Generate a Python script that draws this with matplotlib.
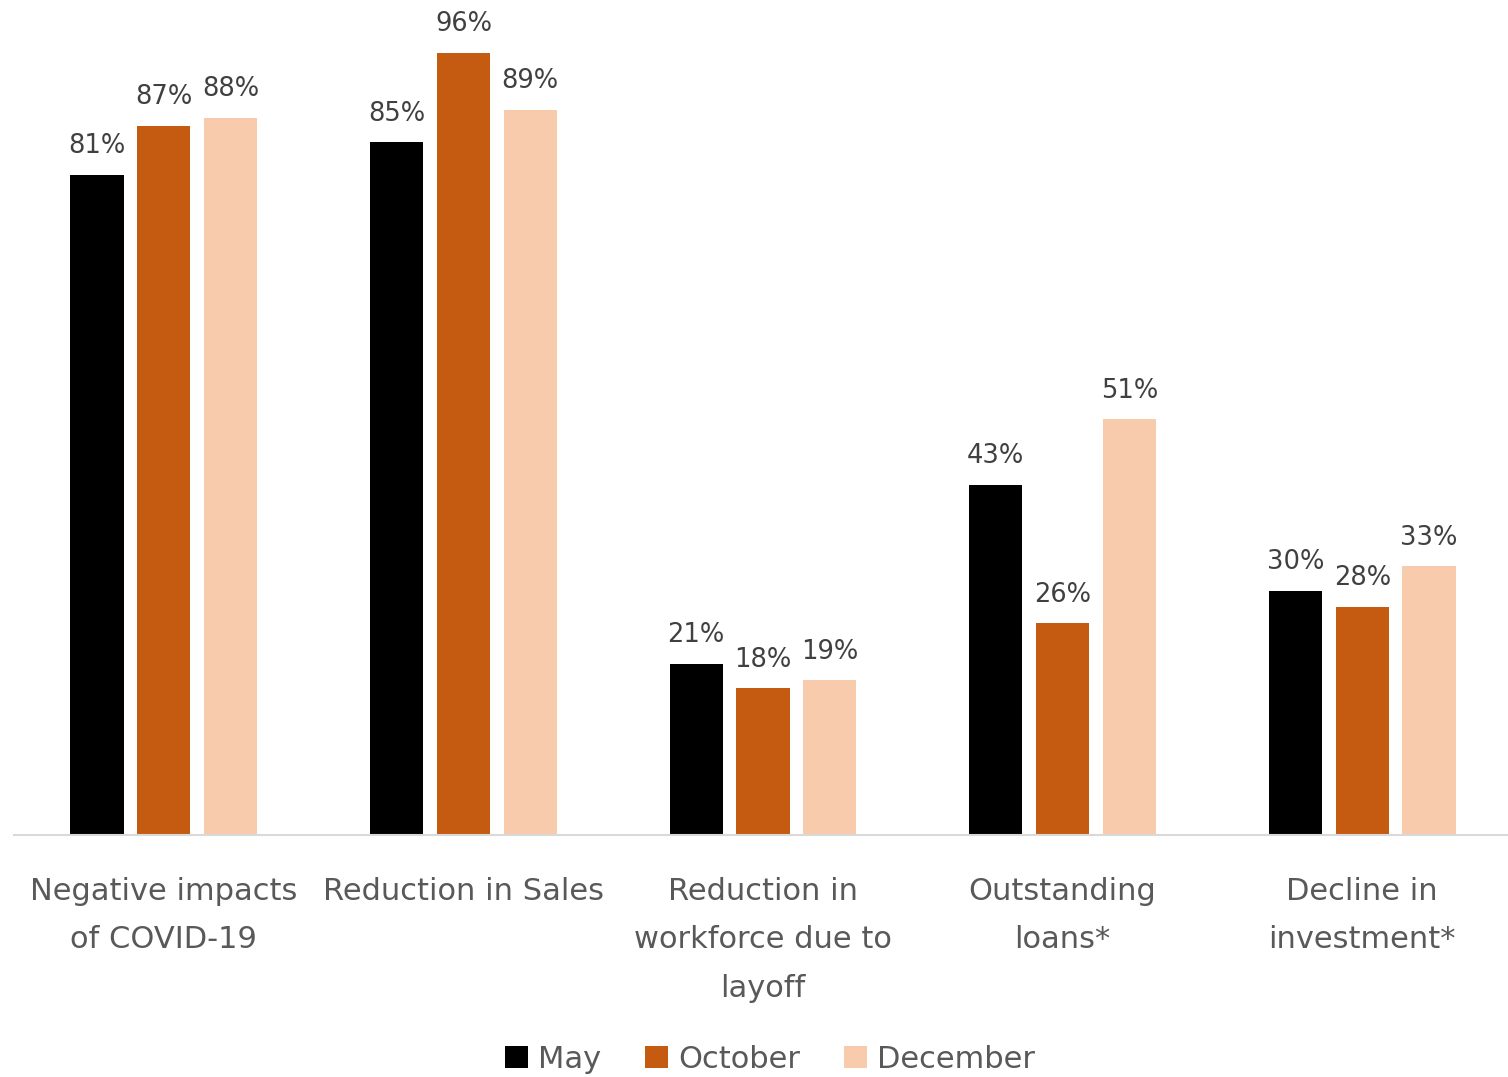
import matplotlib.pyplot as plt
from matplotlib.patches import Patch
import numpy as np

categories = ["Negative impacts\nof COVID-19", "Reduction in Sales",
              "Reduction in\nworkforce due to\nlayoff", "Outstanding\nloans*",
              "Decline in\ninvestment*"]
may = [81, 85, 21, 43, 30]
october = [87, 96, 18, 26, 28]
december = [88, 89, 19, 51, 33]

series = [("May", may, "#000000"),
          ("October", october, "#C55A11"),
          ("December", december, "#F8CBAD")]

plt.rcParams['font.family'] = ['DejaVu Sans']

fig = plt.figure(figsize=(15.08, 10.77), dpi=100)
ax = fig.add_axes([14 / 1508, 242 / 1077, 1498 / 1508, 815 / 1077])

x = np.arange(len(categories))
width = 0.177
pitch = 0.223
for i, (name, vals, col) in enumerate(series):
    pos = x + (i - 1) * pitch
    ax.bar(pos, vals, width, color=col, zorder=2)
    for p, v in zip(pos, vals):
        ax.text(p, v + 1.9, f"{v}%", ha="center", va="bottom",
                fontsize=18.5, color="#404040")

ax.set_xlim(-0.5, 4.5)
ax.set_ylim(0, 100)
for s in ["top", "right", "left"]:
    ax.spines[s].set_visible(False)
ax.spines["bottom"].set_color("#D9D9D9")
ax.spines["bottom"].set_linewidth(1.5)
ax.set_yticks([])
ax.set_xticks(x)
ax.set_xticklabels(categories, fontsize=22, color="#595959", linespacing=1.85)
ax.tick_params(axis="x", length=0, pad=30)

handles = [Patch(facecolor=c, label=n) for n, _, c in series]
fig.legend(handles=handles, loc="center", bbox_to_anchor=(770 / 1508, 18 / 1077),
           ncol=3, frameon=False, fontsize=22, labelcolor="#595959",
           handlelength=0.75, handleheight=0.75, handletextpad=0.33,
           columnspacing=1.45)

fig.savefig("out.png", dpi=100)
